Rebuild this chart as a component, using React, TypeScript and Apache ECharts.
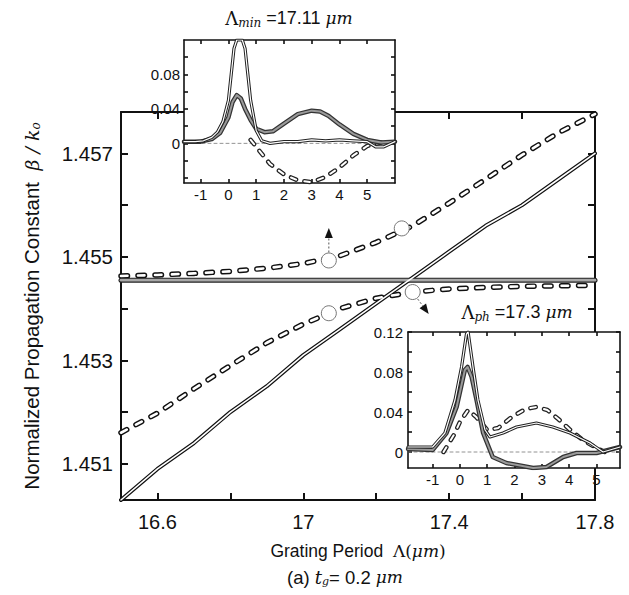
import React, { useEffect, useRef } from 'react';
import * as echarts from 'echarts';

const FONT = '"Liberation Sans", Arial, Helvetica, sans-serif';
const SERIF = '"DejaVu Serif", "Liberation Serif", serif';

// ---------- main plot data ----------
const periodX = [16.5, 16.6, 16.7, 16.8, 16.9, 17.0, 17.1, 17.2, 17.3, 17.4, 17.5, 17.6, 17.7, 17.8];
const solidLine = [1.4503, 1.4509, 1.4514, 1.452, 1.4525, 1.4531, 1.4536, 1.4541, 1.4546, 1.4551, 1.4556, 1.456, 1.4565, 1.457];
const upperBranch = [1.45463, 1.45465, 1.45468, 1.45472, 1.45478, 1.45487, 1.45502, 1.45528, 1.4556, 1.45604, 1.4565, 1.45697, 1.4574, 1.45776];
const lowerBranch = [1.4516, 1.45198, 1.45245, 1.4529, 1.45334, 1.4537, 1.454, 1.4542, 1.45432, 1.45438, 1.45441, 1.45443, 1.45444, 1.45445];
const flatX = [16.5, 17.8];
const flatLine = [1.45455, 1.45455];
const markerX = [17.07, 17.27, 17.07, 17.3];
const markerY = [1.45493, 1.45555, 1.45391, 1.45432];

const mainXTicks = [16.6, 16.8, 17.0, 17.2, 17.4, 17.6, 17.8];
const mainXLabels = [16.6, 17.0, 17.4, 17.8];
const mainYTicks = [1.451, 1.452, 1.453, 1.454, 1.455, 1.456, 1.457];
const mainYLabels = [1.451, 1.453, 1.455, 1.457];

// ---------- inset A (Λmin = 17.11 µm) ----------
const aSolidX = [-1.6, -1.2, -0.9, -0.6, -0.4, -0.2, 0, 0.1, 0.2, 0.3, 0.5, 0.6, 0.7, 0.8, 1.0, 1.2, 1.5, 2, 2.5, 3, 3.5, 4, 4.5, 5, 5.3, 5.6, 6];
const aSolidY = [0.002, 0.002, 0.003, 0.007, 0.013, 0.025, 0.05, 0.08, 0.11, 0.12, 0.12, 0.11, 0.08, 0.05, 0.015, 0.003, 0.0, 0.002, 0.002, 0.004, 0.003, 0.004, 0.003, 0.002, -0.004, -0.004, 0.002];
const aGrayX = [-1.6, -1, -0.6, -0.3, 0, 0.15, 0.3, 0.45, 0.6, 0.8, 1, 1.3, 1.6, 2, 2.5, 3, 3.3, 3.6, 4, 4.5, 5, 5.5, 6];
const aGrayY = [0.002, 0.002, 0.005, 0.012, 0.03, 0.048, 0.056, 0.052, 0.04, 0.027, 0.017, 0.013, 0.014, 0.023, 0.034, 0.038, 0.037, 0.032, 0.022, 0.011, 0.004, 0.001, 0.002];
const aDashX = [0.8, 1.0, 1.5, 2.0, 2.5, 3.0, 3.5, 4.0, 4.5, 5.0, 5.5];
const aDashY = [0.004, -0.004, -0.024, -0.036, -0.043, -0.045, -0.039, -0.028, -0.014, -0.003, 0.001];

// ---------- inset B (Λph = 17.3 µm) ----------
const bSolidX = [-1.9, -1.0, -0.55, -0.18, 0.06, 0.24, 0.3, 0.48, 0.66, 0.92, 1.1, 1.58, 2.07, 2.8, 3.4, 4.03, 4.76, 5.24, 5.86];
const bSolidY = [0.005, 0.005, 0.019, 0.052, 0.085, 0.118, 0.12, 0.085, 0.052, 0.022, 0.015, 0.019, 0.025, 0.029, 0.025, 0.019, 0.009, 0.0, 0.005];
const bGrayX = [-1.9, -1.0, -0.49, -0.12, 0.18, 0.28, 0.43, 0.61, 0.85, 1.2, 1.7, 2.68, 3.17, 3.78, 4.27, 5.0, 5.86];
const bGrayY = [0.003, 0.002, 0.019, 0.045, 0.082, 0.085, 0.075, 0.052, 0.019, -0.005, -0.011, -0.016, -0.015, -0.005, -0.001, -0.001, 0.005];
const bDashX = [-0.6, -0.2, 0, 0.3, 0.6, 1.0, 1.4, 1.9, 2.4, 2.8, 3.2, 3.6, 4.0, 4.5, 5.0, 5.3];
const bDashY = [0.0, 0.018, 0.03, 0.042, 0.035, 0.022, 0.024, 0.035, 0.043, 0.045, 0.042, 0.033, 0.023, 0.012, 0.004, 0.0];

const insetXTicks = [-1, 0, 1, 2, 3, 4, 5];
const insetAYTicks = [-0.04, -0.02, 0, 0.02, 0.04, 0.06, 0.08, 0.1];
const insetAYLabels = [0, 0.04, 0.08];
const insetBYTicks = [0, 0.02, 0.04, 0.06, 0.08, 0.1, 0.12];
const insetBYLabels = [0, 0.04, 0.08, 0.12];

const zip = (xs: number[], ys: number[]) => xs.map((x, i) => [x, ys[i]]);

function lineSeries(data: number[][], xi: number, yi: number, color: string, width: number, z: number, dash?: number[] | string) {
  return {
    type: 'line',
    xAxisIndex: xi,
    yAxisIndex: yi,
    data,
    symbol: 'none',
    silent: true,
    z,
    lineStyle: { color, width, type: dash || 'solid', cap: 'round', join: 'round' },
  };
}

function frameAxis(
  grid: number,
  pos: string,
  min: number,
  max: number,
  ticks: number[],
  labels: number[] | null,
  fmt: (v: number) => string,
  fontSize: number,
  margin: number,
  lineW: number,
  tickLen: number,
  z: number,
) {
  return {
    type: 'value',
    gridIndex: grid,
    position: pos,
    min,
    max,
    z,
    axisLine: { show: true, onZero: false, lineStyle: { color: '#111', width: lineW } },
    axisTick: { show: true, inside: true, length: tickLen, customValues: ticks, lineStyle: { color: '#111', width: lineW } },
    axisLabel: labels
      ? { show: true, customValues: labels, formatter: fmt, fontFamily: FONT, fontSize, color: '#111', margin }
      : { show: false },
    splitLine: { show: false },
  };
}

const subRich = (size: number) => ({
  l: { fontFamily: SERIF, fontSize: size, fill: '#111', color: '#111' },
  s: { fontFamily: SERIF, fontStyle: 'italic', fontSize: 12, fill: '#111', color: '#111', padding: [9, 0, 0, 0] },
  n: { fontFamily: FONT, fontSize: size, fill: '#111', color: '#111' },
  u: { fontFamily: SERIF, fontStyle: 'italic', fontSize: size - 1, fill: '#111', color: '#111' },
});

const MAIN_DASH = [6.5, 10.5];
const INSET_DASH = [5.5, 8.5];

export default function App() {
  const ref = useRef<HTMLDivElement>(null);

  useEffect(() => {
    document.body.style.margin = '0';
    const chart = echarts.init(ref.current!, undefined, { renderer: 'svg' });

    const fmtMainX = (v: number) => String(+v.toFixed(1));
    const fmtMainY = (v: number) => v.toFixed(3);
    const fmtIn = (v: number) => String(Math.round(v));
    const fmtInY = (v: number) => (Math.abs(v) < 1e-9 ? '0' : v.toFixed(2));

    const option: any = {
      animation: false,
      backgroundColor: '#fff',
      grid: [
        { left: 121, top: 112, width: 474, height: 388, show: false },
        { left: 184, top: 40, width: 211, height: 143, show: true, backgroundColor: '#fff', borderWidth: 0, z: 5 },
        { left: 408, top: 332, width: 212, height: 136, show: true, backgroundColor: '#fff', borderWidth: 0, z: 5 },
      ],
      xAxis: [
        {
          ...frameAxis(0, 'bottom', 16.5, 17.8, mainXTicks, mainXLabels, fmtMainX, 20, 12, 2, 7, 0),
          name: '{a|Grating Period  }{b|Λ(}{c|μm}{b|)}',
          nameLocation: 'middle',
          nameGap: 42,
          nameTextStyle: {
            rich: {
              a: { fontFamily: FONT, fontSize: 17.5, color: '#111' },
              b: { fontFamily: SERIF, fontSize: 17, color: '#111' },
              c: { fontFamily: SERIF, fontStyle: 'italic', fontSize: 17, color: '#111' },
            },
          },
        },
        frameAxis(0, 'top', 16.5, 17.8, mainXTicks, null, fmtMainX, 20, 8, 2, 7, 0),
        frameAxis(1, 'bottom', -1.6, 6, insetXTicks, insetXTicks, fmtIn, 15, 4, 1.6, 4, 6),
        frameAxis(1, 'top', -1.6, 6, insetXTicks, null, fmtIn, 15, 4, 1.6, 4, 6),
        frameAxis(2, 'bottom', -1.9, 5.86, insetXTicks, insetXTicks, fmtIn, 15, 4, 1.6, 4, 6),
        frameAxis(2, 'top', -1.9, 5.86, insetXTicks, null, fmtIn, 15, 4, 1.6, 4, 6),
      ],
      yAxis: [
        {
          ...frameAxis(0, 'left', 1.4503, 1.4578, mainYTicks, mainYLabels, fmtMainY, 20.5, 8, 2, 7, 0),
          name: '{a|Normalized Propagation Constant  }{b|β / k}{s|o}',
          nameLocation: 'middle',
          nameGap: 79,
          nameTextStyle: {
            rich: {
              a: { fontFamily: FONT, fontSize: 20.5, color: '#111' },
              b: { fontFamily: SERIF, fontStyle: 'italic', fontSize: 19, color: '#111' },
              s: { fontFamily: SERIF, fontStyle: 'italic', fontSize: 12, color: '#111', padding: [9, 0, 0, 0] },
            },
          },
        },
        frameAxis(0, 'right', 1.4503, 1.4578, mainYTicks, null, fmtMainY, 20, 8, 2, 7, 0),
        frameAxis(1, 'left', -0.046, 0.12, insetAYTicks, insetAYLabels, fmtInY, 15, 4, 1.6, 4, 6),
        frameAxis(1, 'right', -0.046, 0.12, insetAYTicks, null, fmtInY, 15, 4, 1.6, 4, 6),
        frameAxis(2, 'left', -0.016, 0.12, insetBYTicks, insetBYLabels, fmtInY, 15, 5, 1.6, 4, 6),
        frameAxis(2, 'right', -0.016, 0.12, insetBYTicks, null, fmtInY, 15, 5, 1.6, 4, 6),
      ],
      series: [
        // main: flat gray band
        lineSeries(zip(flatX, flatLine), 0, 0, '#222', 5, 2),
        lineSeries(zip(flatX, flatLine), 0, 0, '#a8a8a8', 2.6, 3),
        // main: solid double line
        lineSeries(zip(periodX, solidLine), 0, 0, '#111', 4, 2),
        lineSeries(zip(periodX, solidLine), 0, 0, '#fff', 1.6, 3),
        // main: dashed hollow branches
        lineSeries(zip(periodX, upperBranch), 0, 0, '#111', 5.5, 2, MAIN_DASH),
        lineSeries(zip(periodX, upperBranch), 0, 0, '#fff', 2.6, 3, MAIN_DASH),
        lineSeries(zip(periodX, lowerBranch), 0, 0, '#111', 5.5, 2, MAIN_DASH),
        lineSeries(zip(periodX, lowerBranch), 0, 0, '#fff', 2.6, 3, MAIN_DASH),
        {
          type: 'scatter',
          xAxisIndex: 0,
          yAxisIndex: 0,
          data: zip(markerX, markerY),
          symbol: 'circle',
          symbolSize: 15,
          z: 4,
          silent: true,
          itemStyle: { color: '#fff', borderColor: '#777', borderWidth: 1, opacity: 1 },
        },
        // inset A
        lineSeries([[-1.6, 0], [6, 0]], 2, 2, '#777', 0.8, 7, [3, 3]),
        lineSeries(zip(aDashX, aDashY), 2, 2, '#222', 4.5, 7, INSET_DASH),
        lineSeries(zip(aDashX, aDashY), 2, 2, '#fff', 2, 8, INSET_DASH),
        lineSeries(zip(aGrayX, aGrayY), 2, 2, '#333', 4.5, 9),
        lineSeries(zip(aGrayX, aGrayY), 2, 2, '#9a9a9a', 2, 10),
        lineSeries(zip(aSolidX, aSolidY), 2, 2, '#222', 3.2, 11),
        lineSeries(zip(aSolidX, aSolidY), 2, 2, '#fff', 1.2, 12),
        // inset B
        lineSeries([[-1.9, 0], [5.86, 0]], 4, 4, '#777', 0.8, 7, [3, 3]),
        lineSeries(zip(bDashX, bDashY), 4, 4, '#222', 4.5, 7, INSET_DASH),
        lineSeries(zip(bDashX, bDashY), 4, 4, '#fff', 2, 8, INSET_DASH),
        lineSeries(zip(bGrayX, bGrayY), 4, 4, '#333', 4.5, 9),
        lineSeries(zip(bGrayX, bGrayY), 4, 4, '#9a9a9a', 2, 10),
        lineSeries(zip(bSolidX, bSolidY), 4, 4, '#222', 3.2, 11),
        lineSeries(zip(bSolidX, bSolidY), 4, 4, '#fff', 1.2, 12),
      ],
    };
    chart.setOption(option);

    const up = chart.convertToPixel({ seriesIndex: 8 }, [markerX[0], markerY[0]]) as number[];
    const dn = chart.convertToPixel({ seriesIndex: 8 }, [markerX[3], markerY[3]]) as number[];
    const upTop = 228;
    const dnEnd = [dn[0] + 16, dn[1] + 22];
    const ang = Math.atan2(dnEnd[1] - dn[1], dnEnd[0] - dn[0]);
    const ah = 10;
    const aw = 4;
    const tip = dnEnd;
    const bx = tip[0] - ah * Math.cos(ang);
    const by = tip[1] - ah * Math.sin(ang);
    chart.setOption({
      graphic: [
        { type: 'line', z: 20, shape: { x1: up[0], y1: up[1] - 8, x2: up[0], y2: upTop + 8 }, style: { stroke: '#555', lineWidth: 1, lineDash: [2, 2] } },
        { type: 'polygon', z: 20, shape: { points: [[up[0], upTop], [up[0] - 4, upTop + 10], [up[0] + 4, upTop + 10]] }, style: { fill: '#111' } },
        { type: 'line', z: 20, shape: { x1: dn[0] + 5, y1: dn[1] + 7, x2: bx, y2: by }, style: { stroke: '#555', lineWidth: 1, lineDash: [2, 2] } },
        {
          type: 'polygon',
          z: 20,
          shape: {
            points: [
              tip,
              [bx + aw * Math.sin(ang), by - aw * Math.cos(ang)],
              [bx - aw * Math.sin(ang), by + aw * Math.cos(ang)],
            ],
          },
          style: { fill: '#111' },
        },
        {
          type: 'text',
          z: 20,
          x: 289,
          y: 18,
          style: { text: '{l|Λ}{s|min}{n| =17.11 }{u|μm}', align: 'center', verticalAlign: 'middle', rich: subRich(18) },
        },
        {
          type: 'text',
          z: 20,
          x: 517,
          y: 312,
          style: { text: '{l|Λ}{s|ph}{n| =17.3 }{u|μm}', align: 'center', verticalAlign: 'middle', rich: subRich(18) },
        },
        {
          type: 'text',
          z: 20,
          x: 345,
          y: 577,
          style: {
            text: '{n|(a) }{t|t}{s|g}{n|= 0.2 }{u|μm}',
            align: 'center',
            verticalAlign: 'middle',
            rich: {
              n: { fontFamily: FONT, fontSize: 18.5, fill: '#111' },
              t: { fontFamily: SERIF, fontStyle: 'italic', fontSize: 18, fill: '#111' },
              s: { fontFamily: SERIF, fontStyle: 'italic', fontSize: 11, fill: '#111', padding: [9, 0, 0, 0] },
              u: { fontFamily: SERIF, fontStyle: 'italic', fontSize: 17, fill: '#111' },
            },
          },
        },
      ],
    });

    return () => chart.dispose();
  }, []);

  return <div ref={ref} style={{ width: 629, height: 595 }} />;
}
